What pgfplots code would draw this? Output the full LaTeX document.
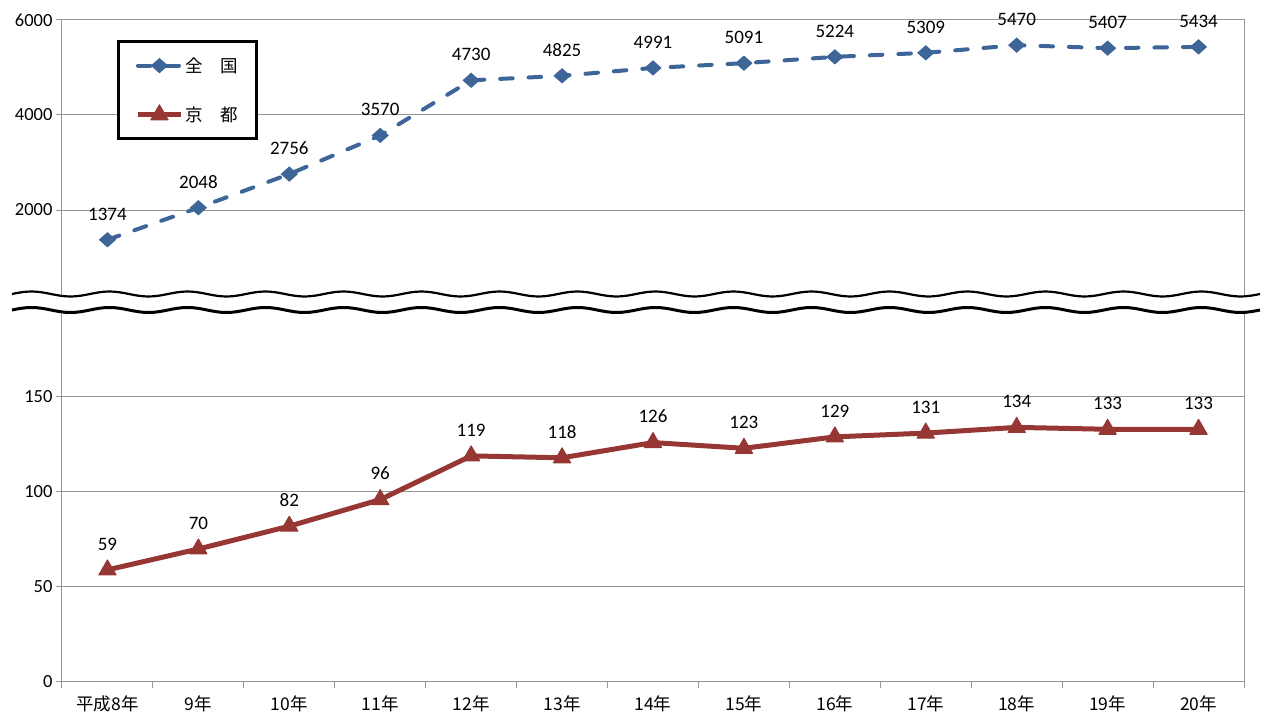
\documentclass[border=0pt]{standalone}
\usepackage{fontspec}
\setmainfont{Carlito}
\newfontfamily\cjk{Noto Sans CJK JP}
\usepackage{pgfplots}
\usepackage{pgfplotstable}
\pgfplotsset{compat=1.18}
\definecolor{zenkoku}{RGB}{61,101,151}
\definecolor{kyoto}{RGB}{150,55,52}
\definecolor{gridgray}{RGB}{150,150,150}

% 全国 (upper part, plotted at 198.4 + v/40 on the lower scale)
\pgfplotstableread{
x v
0 1374
1 2048
2 2756
3 3570
4 4730
5 4825
6 4991
7 5091
8 5224
9 5309
10 5470
11 5407
12 5434
}\zenkokutable

% 京都
\pgfplotstableread{
x v
0 59
1 70
2 82
3 96
4 119
5 118
6 126
7 123
8 129
9 131
10 134
11 133
12 133
}\kyototable

\begin{document}
\begin{tikzpicture}
\begin{axis}[name=ax, scale only axis, width=1182pt, height=662pt,
  xmin=-0.5, xmax=12.5, ymin=0, ymax=348.4,
  axis line style={gridgray, line width=1pt},
  tick style={gridgray, line width=1pt},
  major tick length=6pt, tick align=outside,
  xtick pos=bottom, ytick pos=left,
  xtick={-0.5,0.5,...,12.5},
  xticklabels={平成8年,9年,10年,11年,12年,13年,14年,15年,16年,17年,18年,19年,20年,{}},
  xticklabel style={font=\cjk\fontsize{17.5}{17.5}\selectfont, xshift=45.45pt, yshift=-4pt, overlay},
  ytick={0,50,100,150,248.4,298.4,348.4},
  yticklabels={0,50,100,150,2000,4000,6000},
  yticklabel style={font=\fontsize{18.5}{18.5}\selectfont},
  ymajorgrids, grid style={gridgray, line width=1pt},
  /pgf/number format/assume math mode=true,
  /pgf/number format/1000 sep={},
  nodes near coords style={font=\fontsize{19}{19}\selectfont, black, anchor=south, inner sep=0pt, yshift=19pt},
  clip=false,
  legend image code/.code={\draw[mark repeat=2,mark phase=2] plot coordinates {(0pt,0pt)(21.5pt,0pt)(43pt,0pt)};},
  legend style={at={(rel axis cs:0.0465,0.9698)}, anchor=north west, draw=black, line width=3pt,
    font=\cjk\fontsize{17.5}{17.5}\selectfont, inner xsep=17pt, inner ysep=14pt, row sep=29pt},
  legend cell align=left,
]
\addplot[zenkoku, line width=4pt, line cap=round, dash pattern=on 12.5pt off 16pt,
  mark=diamond*, mark size=7pt, mark options={solid, xscale=1.5, line width=1pt},
  nodes near coords, point meta=explicit]
  table[x=x, y expr=198.4+\thisrow{v}/40, meta=v] {\zenkokutable};
\addlegendentry{全　国}
\addplot[kyoto, line width=5pt, line join=round,
  mark=triangle*, mark size=10pt, mark options={solid, line width=1pt, line join=round},
  nodes near coords, point meta=explicit]
  table[x=x, y=v, meta=v] {\kyototable};
\addlegendentry{京　都}
\end{axis}
\begin{scope}[shift={(ax.south west)}, x=1pt, y=1pt]
  \path (-62,-33) rectangle (1205,682);
  \fill[white] (-50,388) \foreach \k in {1,...,16}{ sin ++(19.5,2.5) cos ++(19.5,-2.5) sin ++(19.5,-2.5) cos ++(19.5,2.5) }
    -- (1198,372) \foreach \k in {1,...,16}{ sin ++(-19.5,-2.5) cos ++(-19.5,2.5) sin ++(-19.5,2.5) cos ++(-19.5,-2.5) } -- cycle;
  \draw[black, line width=2.2pt] (-50,388) \foreach \k in {1,...,16}{ sin ++(19.5,2.5) cos ++(19.5,-2.5) sin ++(19.5,-2.5) cos ++(19.5,2.5) };
  \draw[black, line width=3pt] (-50,372) \foreach \k in {1,...,16}{ sin ++(19.5,2.5) cos ++(19.5,-2.5) sin ++(19.5,-2.5) cos ++(19.5,2.5) };
\end{scope}
\end{tikzpicture}
\end{document}
